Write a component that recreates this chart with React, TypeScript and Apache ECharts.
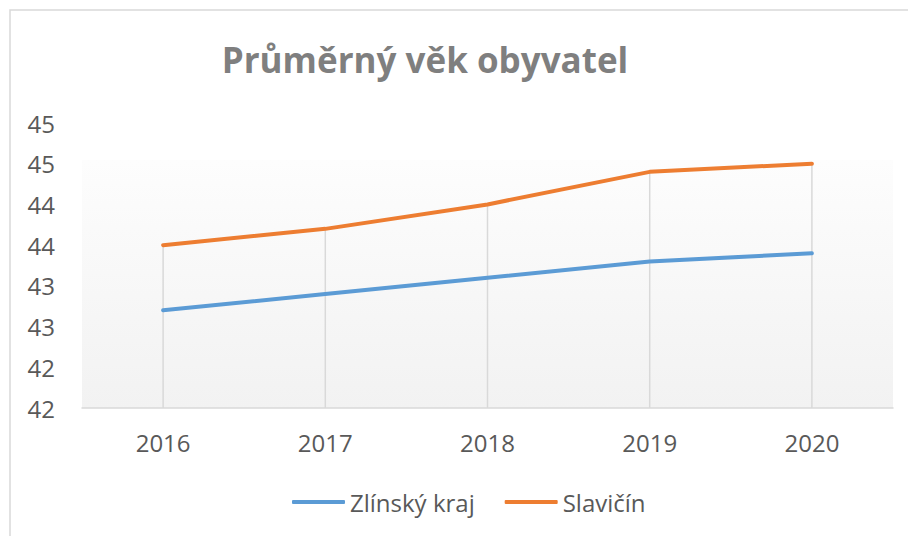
import React, { useEffect, useRef } from "react";
import * as echarts from "echarts";

const categories = ["2016", "2017", "2018", "2019", "2020"];
const zlinskyKraj = [42.7, 42.9, 43.1, 43.3, 43.4];
const slavicin = [43.5, 43.7, 44.0, 44.4, 44.5];
const seriesNames = ["Zlínský kraj", "Slavičín"];
const yMin = 41.5;
const yMax = 45;
const yStep = 0.5;
const titleText = "Průměrný věk obyvatel";

const FONT = "'Open Sans', 'Noto Sans', sans-serif";

export default function App() {
  const ref = useRef<HTMLDivElement>(null);
  useEffect(() => {
    if (!ref.current) return;
    const chart = echarts.init(ref.current, undefined, { renderer: "svg" });
    const dropData = categories.map((_, i) => [i, Math.max(zlinskyKraj[i], slavicin[i])]);
    chart.setOption({
      animation: false,
      backgroundColor: "#ffffff",
      textStyle: { fontFamily: FONT },
      title: {
        text: titleText,
        left: 420,
        top: 37,
        textAlign: "center",
        textStyle: { fontFamily: FONT, fontSize: 35, fontWeight: "bold", color: "#7f7f7f" },
      },
      graphic: [
        {
          type: "rect",
          shape: { x: 10, y: 10, width: 1000, height: 1000 },
          style: { fill: "none", stroke: "#d9d9d9", lineWidth: 1.5 },
          silent: true,
        },
      ],
      legend: {
        data: seriesNames,
        left: 287,
        top: 485,
        icon: "roundRect",
        itemWidth: 53,
        itemHeight: 4,
        itemGap: 30,
        textStyle: { fontFamily: FONT, fontSize: 24, color: "#595959" },
      },
      grid: {
        left: 82,
        right: 15,
        top: 123,
        bottom: 128,
        show: true,
        borderWidth: 0,
        backgroundColor: new echarts.graphic.LinearGradient(0, 0, 0, 1, [
          { offset: 0, color: "#ffffff" },
          { offset: 0.129, color: "#ffffff" },
          { offset: 0.13, color: "#fdfdfd" },
          { offset: 1, color: "#f2f2f2" },
        ]),
      },
      xAxis: {
        type: "category",
        data: categories,
        boundaryGap: true,
        axisLine: { show: true, lineStyle: { color: "#d9d9d9", width: 1.5 } },
        axisTick: { show: false },
        splitLine: { show: false },
        axisLabel: { fontFamily: FONT, fontSize: 24, color: "#595959", margin: 22 },
      },
      yAxis: {
        type: "value",
        min: yMin,
        max: yMax,
        interval: yStep,
        axisLine: { show: false },
        axisTick: { show: false },
        splitLine: { show: false },
        axisLabel: {
          fontFamily: FONT,
          fontSize: 24,
          color: "#595959",
          margin: 27,
          formatter: (v: number) => String(Math.round(v)),
        },
      },
      series: [
        {
          type: "custom",
          name: "drop",
          z: 1,
          silent: true,
          data: dropData,
          renderItem: (params: any, api: any) => {
            const top = api.coord([api.value(0), api.value(1)]);
            const bottom = api.coord([api.value(0), yMin]);
            return {
              type: "line",
              shape: { x1: top[0], y1: top[1], x2: bottom[0], y2: bottom[1] },
              style: { stroke: "#d9d9d9", lineWidth: 1.5 },
            };
          },
        },
        {
          type: "line",
          name: seriesNames[0],
          data: zlinskyKraj,
          z: 3,
          showSymbol: false,
          symbol: "none",
          color: "#5b9bd5",
          lineStyle: { color: "#5b9bd5", width: 4, cap: "round", join: "round" },
        },
        {
          type: "line",
          name: seriesNames[1],
          data: slavicin,
          z: 3,
          showSymbol: false,
          symbol: "none",
          color: "#ed7d31",
          lineStyle: { color: "#ed7d31", width: 4, cap: "round", join: "round" },
        },
      ],
    });
    return () => chart.dispose();
  }, []);
  return (
    <div
      ref={ref}
      style={{ position: "fixed", left: 0, top: 0, width: 908, height: 536 }}
    />
  );
}
